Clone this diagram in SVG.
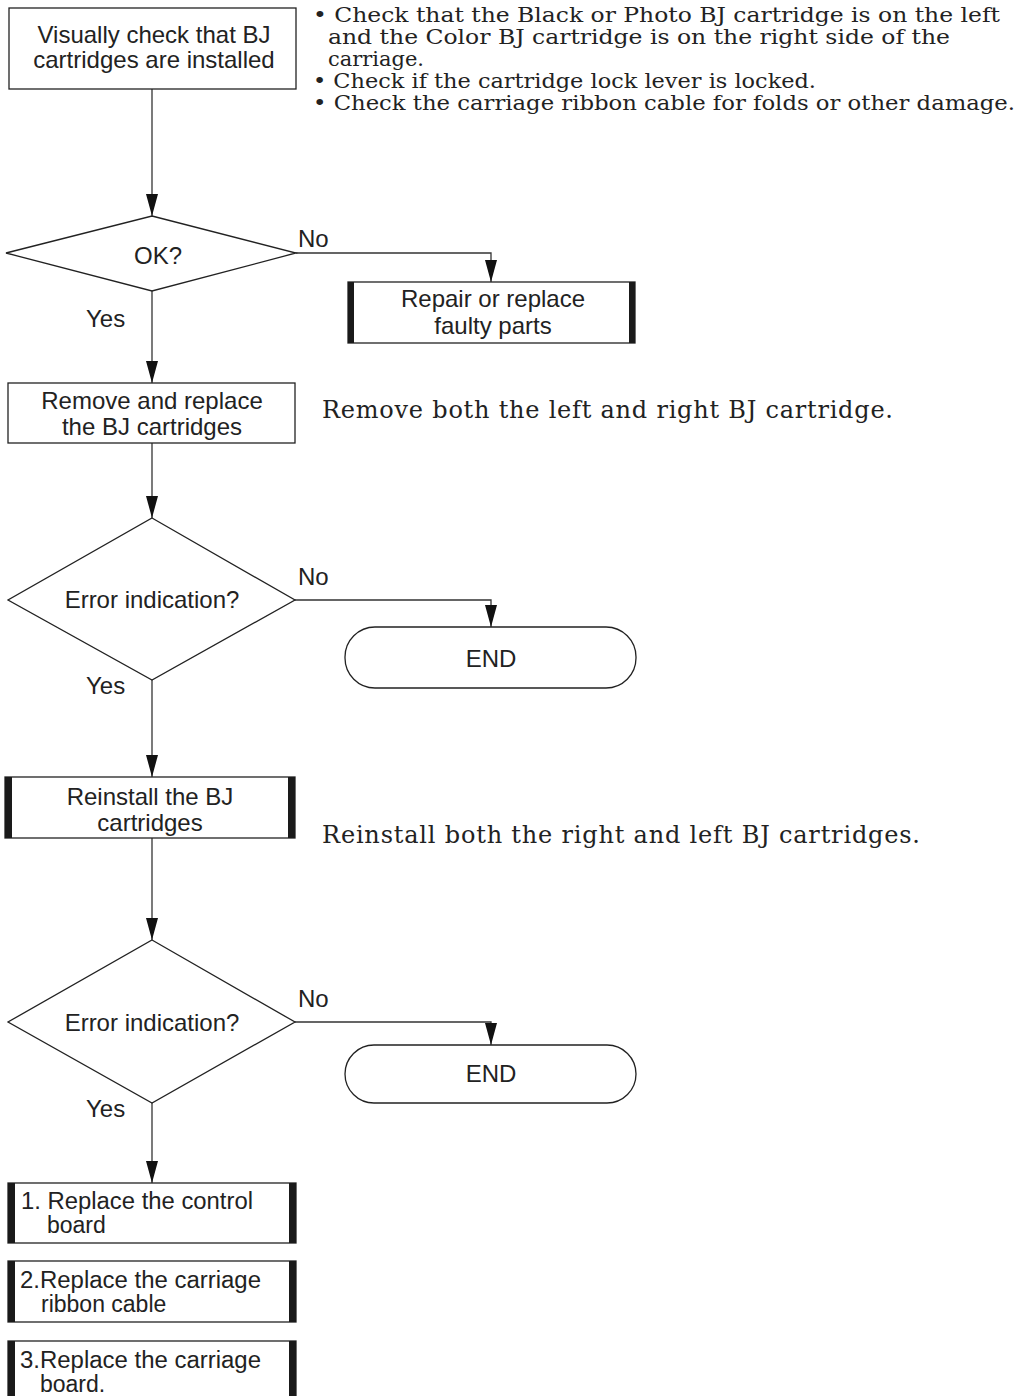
<svg xmlns="http://www.w3.org/2000/svg" width="1020" height="1396" viewBox="0 0 1020 1396">
<style>
.box{fill:#fff;stroke:#222;stroke-width:1.3}
.bar{fill:#1a1a1a}
.t{font-family:"Liberation Sans",Arial,sans-serif;font-size:24px;fill:#222;text-anchor:middle}
.tl{font-family:"Liberation Sans",Arial,sans-serif;font-size:24px;fill:#222}
.tb{font-family:"Liberation Sans",Arial,sans-serif;font-size:23px;fill:#222}
.s{font-family:"DejaVu Serif","Liberation Serif",serif;font-size:20px;fill:#222}
.s2{font-family:"DejaVu Serif","Liberation Serif",serif;font-size:24px;fill:#222}
.c{fill:none;stroke:#333;stroke-width:1.3}
</style>
<defs>
<marker id="ad" markerUnits="userSpaceOnUse" markerWidth="22" markerHeight="12" refX="22" refY="6" orient="auto" viewBox="0 0 22 12">
<path d="M0,0 L22,6 L0,12 Z" fill="#111"/>
</marker>
</defs>

<g id="connectors">
<line class="c" x1="152" y1="89" x2="152" y2="216" marker-end="url(#ad)"/>
<polyline class="c" points="296,253 491,253 491,282" marker-end="url(#ad)"/>
<line class="c" x1="152" y1="291" x2="152" y2="383" marker-end="url(#ad)"/>
<line class="c" x1="152" y1="443" x2="152" y2="518" marker-end="url(#ad)"/>
<polyline class="c" points="295,600 491,600 491,627" marker-end="url(#ad)"/>
<line class="c" x1="152" y1="680" x2="152" y2="777" marker-end="url(#ad)"/>
<line class="c" x1="152" y1="838" x2="152" y2="940" marker-end="url(#ad)"/>
<polyline class="c" points="295,1022 491,1022 491,1045" marker-end="url(#ad)"/>
<line class="c" x1="152" y1="1103" x2="152" y2="1183" marker-end="url(#ad)"/>
<text class="tl" x="298" y="247">No</text>
<text class="tl" x="86" y="327">Yes</text>
<text class="tl" x="298" y="585">No</text>
<text class="tl" x="86" y="694">Yes</text>
<text class="tl" x="298" y="1007">No</text>
<text class="tl" x="86" y="1117">Yes</text>
</g>

<g id="n1">
<rect class="box" x="9" y="8" width="287" height="81"/>
<text class="t" x="154" y="43">Visually check that BJ</text>
<text class="t" x="154" y="68">cartridges are installed</text>
</g>

<g id="note1">
<text class="s" x="313" y="22" textLength="687" lengthAdjust="spacingAndGlyphs">• Check that the Black or Photo BJ cartridge is on the left</text>
<text class="s" x="328" y="44" textLength="622" lengthAdjust="spacingAndGlyphs">and the Color BJ cartridge is on the right side of the</text>
<text class="s" x="328" y="66" textLength="96" lengthAdjust="spacingAndGlyphs">carriage.</text>
<text class="s" x="313" y="88" textLength="503" lengthAdjust="spacingAndGlyphs">• Check if the cartridge lock lever is locked.</text>
<text class="s" x="313" y="110" textLength="702" lengthAdjust="spacingAndGlyphs">• Check the carriage ribbon cable for folds or other damage.</text>
</g>

<g id="d1">
<polygon class="box" points="152,216 296,253 152,291 6,253"/>
<text class="t" x="158" y="264">OK?</text>
</g>

<g id="n2">
<rect class="box" x="348" y="282" width="287" height="61"/>
<rect class="bar" x="348" y="282" width="6" height="61"/>
<rect class="bar" x="629" y="282" width="6" height="61"/>
<text class="t" x="493" y="307">Repair or replace</text>
<text class="t" x="493" y="334">faulty parts</text>
</g>

<g id="n3">
<rect class="box" x="8" y="383" width="287" height="60"/>
<text class="t" x="152" y="409">Remove and replace</text>
<text class="t" x="152" y="435">the BJ cartridges</text>
</g>
<text class="s2" x="322" y="418" textLength="571" lengthAdjust="spacing">Remove both the left and right BJ cartridge.</text>

<g id="d2">
<polygon class="box" points="152,518 295,600 152,680 8,600"/>
<text class="t" x="152" y="608">Error indication?</text>
</g>

<g id="end1">
<rect class="box" x="345" y="627" width="291" height="61" rx="30" ry="30"/>
<text class="t" x="491" y="667">END</text>
</g>

<g id="n4">
<rect class="box" x="5" y="777" width="290" height="61"/>
<rect class="bar" x="5" y="777" width="7" height="61"/>
<rect class="bar" x="288" y="777" width="7" height="61"/>
<text class="t" x="150" y="805">Reinstall the BJ</text>
<text class="t" x="150" y="831">cartridges</text>
</g>
<text class="s2" x="322" y="843" textLength="598" lengthAdjust="spacing">Reinstall both the right and left BJ cartridges.</text>

<g id="d3">
<polygon class="box" points="152,940 295,1022 152,1103 8,1022"/>
<text class="t" x="152" y="1031">Error indication?</text>
</g>

<g id="end2">
<rect class="box" x="345" y="1045" width="291" height="58" rx="29" ry="29"/>
<text class="t" x="491" y="1082">END</text>
</g>

<g id="n5">
<rect class="box" x="8" y="1183" width="288" height="60"/>
<rect class="bar" x="8" y="1183" width="7" height="60"/>
<rect class="bar" x="289" y="1183" width="7" height="60"/>
<text class="tb" x="21" y="1209" textLength="232" lengthAdjust="spacingAndGlyphs">1. Replace the control</text>
<text class="tb" x="47" y="1233">board</text>
</g>

<g id="n6">
<rect class="box" x="8" y="1261" width="288" height="61"/>
<rect class="bar" x="8" y="1261" width="7" height="61"/>
<rect class="bar" x="289" y="1261" width="7" height="61"/>
<text class="tb" x="20" y="1288" textLength="241" lengthAdjust="spacingAndGlyphs">2.Replace the carriage</text>
<text class="tb" x="41" y="1312">ribbon cable</text>
</g>

<g id="n7">
<rect class="box" x="8" y="1341" width="288" height="60"/>
<rect class="bar" x="8" y="1341" width="7" height="60"/>
<rect class="bar" x="289" y="1341" width="7" height="60"/>
<text class="tb" x="20" y="1368" textLength="241" lengthAdjust="spacingAndGlyphs">3.Replace the carriage</text>
<text class="tb" x="40" y="1392">board.</text>
</g>
</svg>
